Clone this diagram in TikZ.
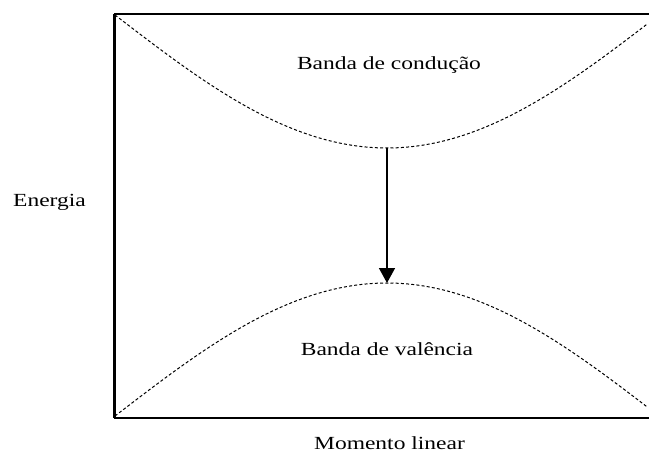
\documentclass[tikz,border=0pt]{standalone}
\usepackage{fontspec}
\setmainfont{Liberation Serif}[FakeStretch=1.27]
\usepackage{tikz}
\usetikzlibrary{arrows.meta}
\tikzstyle{band} = [line width=1pt,dash pattern=on 3pt off 2.2pt]
\tikzstyle{arrow} = [-{Triangle[length=15pt,width=16pt]},line width=1.5pt]
\tikzstyle{label} = [anchor=base,inner sep=0pt,font=\fontsize{18.5}{22}\selectfont]

\begin{document}
\begin{tikzpicture}[x=1pt,y=-1pt]
    \useasboundingbox (0,0) rectangle (649,455);
    \def\xm{387}  % momento do gap
    \def\A{133}   % altura das bandas
    \coordinate (O) at (114.5,418.3);
    \coordinate (T) at (114.5,14.3);
    \coordinate (cmin) at (\xm,148);
    \coordinate (vmax) at (\xm,283);
    % eixos
    \draw[line width=2pt] (649,14.3) -- (T) -- (O) -- (649,418.3);
    \draw[line width=3pt] (T) -- (O);
    % bandas
    \draw[band] plot[domain=115:648,samples=90,smooth]
        (\x,{148-\A*(1-cos((\x-\xm)/272*90))});
    \draw[band] plot[domain=115:648,samples=90,smooth]
        (\x,{283+\A*(1-cos((\x-\xm)/272*90))});
    % transicao
    \draw[arrow] (cmin) -- (vmax);
    \node[label] (cond) at (389,69) {Banda de condução};
    \node[label] (val) at (387,355) {Banda de valência};
    \node[label] (energia) at (49.5,206.7) {Energia};
    \node[label] (momento) at (389.5,449) {Momento linear};
\end{tikzpicture}
\end{document}
